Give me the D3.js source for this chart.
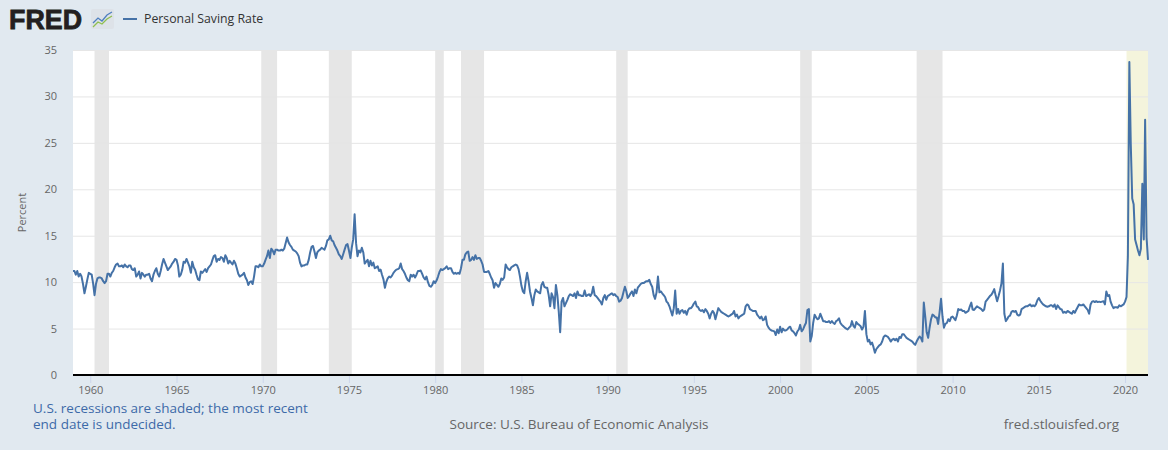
<!DOCTYPE html>
<html>
<head>
<meta charset="utf-8">
<script src="https://cdn.jsdelivr.net/npm/d3@7"></script>
<style>
  html, body { margin: 0; padding: 0; background: #e1e9f0; }
  svg { display: block; font-family: "Open Sans", "Noto Sans", sans-serif; }
</style>
</head>
<body>
<div id="chart"></div>
<script>
// constants
const FRAME_WIDTH = 1168;
const FRAME_HEIGHT = 450;
const MARGINS = {left: 73, right: 20, top: 50, bottom: 75};
const VIS_WIDTH = FRAME_WIDTH - MARGINS.left - MARGINS.right;
const VIS_HEIGHT = FRAME_HEIGHT - MARGINS.top - MARGINS.bottom;

// data: monthly personal saving rate (%), first value is 1959-01
const firstMonth = '1959-01';
const rate1950s = [
  11.2, 11.2, 10.8, 11.2, 10.6, 10.9, 10.6, 9.8, 8.8, 9.5, 10.3, 11.0
];
const rate1960s = [
  10.9, 10.8, 9.9, 8.6, 9.8, 10.4, 10.5, 10.5, 10.4, 10.1, 9.9, 10.1,
  10.9, 10.9, 10.6, 11.0, 11.2, 11.6, 11.9, 12.0, 11.7, 11.7, 11.8, 11.6,
  11.9, 11.7, 11.6, 11.8, 11.8, 11.4, 11.3, 11.5, 10.6, 10.8, 11.15, 10.4,
  11.0, 10.8, 10.6, 10.8, 10.8, 10.9, 10.4, 10.1, 10.8, 11.2, 11.5, 10.9,
  10.6, 11.2, 11.9, 12.5, 12.1, 11.7, 11.3, 11.5, 11.7, 12.0, 12.2, 12.5,
  12.4, 11.8, 10.6, 10.8, 11.3, 12.2, 12.1, 12.5, 12.1, 11.7, 11.0, 12.2,
  11.6, 11.3, 10.8, 10.3, 10.2, 11.15, 11.0, 11.2, 11.4, 11.1, 11.5, 11.7,
  11.9, 12.4, 12.8, 12.9, 12.2, 12.5, 12.4, 12.7, 12.6, 12.2, 12.9, 12.6,
  12.0, 12.3, 12.1, 11.9, 12.3, 12.0, 11.5, 10.9, 10.6, 10.7, 10.8, 11.0,
  10.5, 10.2, 9.7, 10.0, 10.1, 9.8, 10.6, 11.7, 11.7, 11.6, 11.9, 11.7
];
const rate1970s = [
  11.7, 12.0, 12.4, 12.8, 13.4, 12.6, 13.6, 13.4, 13.0, 13.5, 13.5, 13.4,
  13.4, 13.5, 13.4, 13.6, 14.2, 14.8, 14.3, 14.0, 13.8, 13.5, 13.4, 13.3,
  13.1, 12.8, 12.1, 11.7, 11.8, 11.8, 11.9, 11.9, 12.4, 13.2, 13.8, 13.9,
  13.3, 12.6, 13.2, 13.4, 13.5, 13.7, 13.6, 13.5, 13.9, 14.5, 14.6, 15.0,
  14.5, 14.4, 14.0, 13.7, 13.4, 13.0, 12.8, 12.5, 13.0, 13.5, 14.0, 14.1,
  13.4, 12.6, 13.7, 14.6, 17.3, 14.2, 12.8, 13.4, 13.2, 13.7, 13.2, 12.0,
  12.2, 12.4, 11.7, 12.3, 11.8, 12.1, 11.5, 11.6, 11.7, 11.2, 11.35, 10.8,
  10.3, 9.4, 10.0, 10.4, 10.6, 10.5, 10.7, 11.0, 11.2, 11.35, 11.4, 11.5,
  12.0, 11.4, 11.2, 10.9, 10.5, 10.2, 10.1, 10.8, 10.6, 10.8, 10.5, 10.8,
  11.2, 11.2, 11.25, 10.9, 10.5, 10.3, 10.6, 10.0, 9.6, 9.5, 9.7, 10.1
];
const rate1980s = [
  9.9, 10.2, 10.6, 11.1, 11.4, 11.3, 11.4, 11.5, 11.7, 11.4, 11.5, 11.5,
  11.1, 10.9, 11.0, 10.9, 11.0, 10.9, 11.5, 12.4, 12.4, 13.0, 13.2, 13.3,
  12.3, 12.4, 12.7, 12.4, 12.9, 12.5, 12.6, 12.6, 12.3, 11.9, 11.1, 11.1,
  11.1, 11.2, 10.9, 10.5, 10.2, 9.4, 9.9, 9.7, 9.5, 9.8, 10.4, 10.25,
  10.5, 11.9, 11.6, 11.4, 11.3, 11.6, 11.7, 11.8, 11.9, 11.8, 11.4, 10.6,
  9.6, 9.0, 8.8, 10.1, 11.0, 10.1, 9.0, 8.3, 7.5, 8.6, 9.2, 9.0,
  8.9, 8.8, 9.7, 10.0, 9.5, 9.4, 9.4, 8.6, 7.4, 8.8, 8.4, 7.2,
  9.7, 8.6, 6.9, 4.6, 7.9, 8.3, 7.4, 7.75, 8.1, 8.5, 8.7, 8.6,
  8.5, 8.8, 8.3, 9.0, 8.6, 8.6, 8.5, 8.5, 9.1, 8.5, 8.6, 8.7,
  8.5, 8.8, 9.5, 8.6, 8.5, 8.3, 8.1, 7.9, 7.6, 8.3, 8.6, 8.1
];
const rate1990s = [
  8.5, 8.6, 8.7, 8.8, 8.6, 8.7, 8.5, 8.4, 7.9, 8.0, 8.3, 8.9,
  9.5, 9.0, 8.3, 8.5, 8.8, 9.0, 8.5, 9.2, 8.8, 9.4, 9.6, 9.8,
  9.9, 9.9, 10.0, 10.1, 10.1, 10.25, 9.8, 9.5, 8.6, 8.2, 8.9, 10.6,
  8.9, 9.0, 8.8, 8.6, 8.4, 7.9, 7.75, 7.4, 6.9, 6.4, 7.2, 9.1,
  6.6, 7.1, 6.6, 6.9, 7.0, 6.7, 6.9, 6.5, 7.0, 7.2, 7.2, 7.4,
  7.7, 7.9, 7.4, 7.3, 7.0, 6.9, 7.0, 6.75, 7.1, 6.9, 6.6, 6.1,
  6.6, 6.9, 6.7, 6.0, 6.6, 7.2, 7.0, 6.8, 6.7, 6.6, 6.5, 6.4,
  6.3, 6.4, 6.5, 6.6, 6.9, 6.3, 6.5, 6.1, 6.3, 6.4, 6.5, 6.6,
  7.4, 7.6, 7.5, 7.1, 7.0, 6.9, 6.9, 6.9, 6.5, 6.3, 6.1, 6.3,
  5.9, 6.0, 6.3, 5.4, 5.1, 4.9, 4.8, 4.75, 4.7, 4.3, 4.9, 4.5
];
const rate2000s = [
  5.2, 4.6, 5.0, 4.8, 4.8, 4.9, 5.1, 5.2, 4.8, 4.7, 4.5, 4.25,
  4.7, 4.9, 5.4, 4.7, 4.9, 5.3, 5.6, 7.0, 7.1, 3.6, 4.2, 5.6,
  6.5, 6.2, 6.0, 6.1, 6.6, 6.2, 5.8, 5.8, 5.7, 5.7, 5.8, 5.6,
  5.8, 5.6, 5.5, 5.8, 5.9, 6.1, 5.6, 5.4, 5.25, 5.1, 5.0, 4.9,
  5.1, 5.25, 5.8, 5.3, 5.1, 5.7, 5.5, 5.4, 5.25, 4.9, 5.2, 6.9,
  4.4, 3.6, 3.8, 3.3, 3.5, 3.0, 2.4, 2.8, 3.0, 3.2, 3.3, 3.6,
  4.1, 4.25, 4.2, 4.1, 3.9, 3.6, 3.8, 3.9, 3.75, 3.9, 3.6, 4.1,
  4.0, 4.4, 4.4, 4.2, 4.0, 3.9, 3.8, 3.7, 3.6, 3.4, 3.25, 3.6,
  3.9, 4.15, 4.0, 3.6, 7.8, 6.3, 4.6, 4.0, 5.1, 6.0, 6.5, 6.4,
  6.2, 6.2, 5.5, 6.8, 8.2, 6.3, 5.1, 5.5, 5.6, 6.0, 5.8, 6.2
];
const rate2010s = [
  6.3, 6.1, 5.9, 6.4, 7.1, 7.0, 7.05, 6.9, 6.9, 6.7, 6.8, 6.9,
  7.4, 7.8, 7.05, 7.0, 7.2, 7.4, 7.3, 7.2, 7.1, 6.9, 7.05, 7.9,
  8.1, 8.3, 8.5, 8.65, 8.9, 9.25, 8.55, 7.95, 8.5, 9.1, 9.9, 12.0,
  6.6, 5.8, 6.0, 6.3, 6.4, 6.8, 6.9, 6.8, 6.9, 6.5, 6.4, 6.5,
  7.1, 7.2, 7.3, 7.4, 7.4, 7.5, 7.6, 7.4, 7.5, 7.4, 7.6, 8.05,
  8.3, 8.0, 7.8, 7.6, 7.5, 7.4, 7.35, 7.4, 7.5, 7.5, 7.35, 7.6,
  7.1, 7.5, 7.3, 7.1, 7.05, 6.7, 6.8, 6.7, 6.9, 6.8, 6.7, 6.6,
  6.9, 6.7, 7.0, 7.3, 7.6, 7.5, 7.5, 7.6, 7.4, 7.2, 7.0, 6.6,
  7.6, 7.9, 7.95, 7.85, 7.95, 7.85, 7.9, 7.85, 7.9, 7.95, 7.6, 9.0,
  8.5, 8.6, 7.9, 7.5, 7.2, 7.3, 7.3, 7.25, 7.5, 7.4, 7.5, 7.6
];
const rate2020s = [
  7.9, 8.4, 12.8, 33.7, 24.9, 19.0, 18.4, 14.6, 14.0, 13.4, 12.9, 13.6,
  20.6, 14.6, 27.5, 14.8, 12.4
];

// NBER recessions (month of peak / trough), last one still open
const recessionStarts = ['1960-04', '1969-12', '1973-11', '1980-01', '1981-07',
                         '1990-07', '2001-03', '2007-12', '2020-02'];
const recessionEnds = ['1961-02', '1970-11', '1975-03', '1980-07', '1982-11',
                       '1991-03', '2001-11', '2009-06', null];

const yTicks = [0, 5, 10, 15, 20, 25, 30, 35];
const xTickYears = [1960, 1965, 1970, 1975, 1980, 1985, 1990, 1995,
                    2000, 2005, 2010, 2015, 2020];

const parseMonth = d3.timeParse('%Y-%m');
const allRates = [].concat(rate1950s, rate1960s, rate1970s, rate1980s,
                           rate1990s, rate2000s, rate2010s, rate2020s);
const start = parseMonth(firstMonth);
const data = allRates.map((v, i) => ({date: d3.timeMonth.offset(start, i), value: v}));
const lastDate = data[data.length - 1].date;

// create a frame
const SVG = d3.select('#chart')
              .append('svg')
              .attr('width', FRAME_WIDTH)
              .attr('height', FRAME_HEIGHT);

SVG.append('rect')
   .attr('width', FRAME_WIDTH)
   .attr('height', FRAME_HEIGHT)
   .attr('fill', '#e1e9f0');

// scales
const xScale = d3.scaleTime()
                 .domain([start, lastDate])
                 .range([MARGINS.left, MARGINS.left + VIS_WIDTH]);
const yScale = d3.scaleLinear()
                 .domain([0, 35])
                 .range([MARGINS.top + VIS_HEIGHT, MARGINS.top]);

// plot background
SVG.append('rect')
   .attr('x', MARGINS.left)
   .attr('y', MARGINS.top)
   .attr('width', VIS_WIDTH)
   .attr('height', VIS_HEIGHT)
   .attr('fill', '#ffffff');

// recession shading
const recessions = recessionStarts.map((s, i) => ({
  start: parseMonth(s),
  end: recessionEnds[i] ? parseMonth(recessionEnds[i]) : lastDate,
  open: recessionEnds[i] === null
}));

SVG.append('g')
   .selectAll('rect')
   .data(recessions)
   .enter()
   .append('rect')
   .attr('x', d => xScale(d.start))
   .attr('y', MARGINS.top)
   .attr('width', d => xScale(d.end) - xScale(d.start))
   .attr('height', VIS_HEIGHT)
   .attr('fill', d => d.open ? '#f4f4dc' : '#e6e6e6');

// gridlines
SVG.append('g')
   .attr('transform', 'translate(' + MARGINS.left + ',0)')
   .call(d3.axisLeft(yScale).tickValues(yTicks).tickSize(-VIS_WIDTH).tickFormat(''))
   .call(g => g.select('.domain').remove())
   .call(g => g.selectAll('line').attr('stroke', '#e6e6e6').attr('stroke-width', 1));

// y axis labels
SVG.append('g')
   .attr('transform', 'translate(' + (MARGINS.left - 13) + ',0)')
   .call(d3.axisLeft(yScale).tickValues(yTicks).tickSize(0))
   .call(g => g.select('.domain').remove())
   .call(g => g.selectAll('text')
               .attr('fill', '#666666')
               .attr('font-size', '11px')
               .attr('font-family', '"Open Sans", sans-serif'));

SVG.append('text')
   .attr('transform', 'translate(26,' + (MARGINS.top + VIS_HEIGHT / 2) + ') rotate(-90)')
   .attr('text-anchor', 'middle')
   .attr('font-size', '11px')
   .attr('fill', '#666666')
   .text('Percent');

// x axis
const xAxis = d3.axisBottom(xScale)
                .tickValues(xTickYears.map(y => new Date(y, 0, 1)))
                .tickFormat(d3.timeFormat('%Y'))
                .tickSize(8)
                .tickPadding(3);

SVG.append('g')
   .attr('transform', 'translate(0,' + (MARGINS.top + VIS_HEIGHT) + ')')
   .call(xAxis)
   .call(g => g.select('.domain').remove())
   .call(g => g.selectAll('line').attr('stroke', '#ccd6eb'))
   .call(g => g.selectAll('text')
               .attr('fill', '#666666')
               .attr('font-size', '11px')
               .attr('font-family', '"Open Sans", sans-serif'));

// series line
const line = d3.line()
               .x(d => xScale(d.date))
               .y(d => yScale(d.value));

SVG.append('path')
   .datum(data)
   .attr('d', line)
   .attr('fill', 'none')
   .attr('stroke', '#4572a7')
   .attr('stroke-width', 2)
   .attr('stroke-linejoin', 'round');

// bottom axis line
SVG.append('line')
   .attr('x1', MARGINS.left)
   .attr('x2', MARGINS.left + VIS_WIDTH)
   .attr('y1', MARGINS.top + VIS_HEIGHT)
   .attr('y2', MARGINS.top + VIS_HEIGHT)
   .attr('stroke', '#000000')
   .attr('stroke-width', 2);

// logo
SVG.append('text')
   .attr('x', 9)
   .attr('y', 29)
   .attr('font-family', '"Liberation Sans", Arial, sans-serif')
   .attr('font-weight', 'bold')
   .attr('font-size', '27px')
   .attr('textLength', 73)
   .attr('lengthAdjust', 'spacingAndGlyphs')
   .attr('stroke', '#231f20')
   .attr('stroke-width', 0.8)
   .attr('fill', '#231f20')
   .text('FRED');

const icon = SVG.append('g').attr('transform', 'translate(91,9)');
icon.append('rect')
    .attr('width', 23)
    .attr('height', 20)
    .attr('rx', 2)
    .attr('fill', '#dde2e8');
icon.append('polyline')
    .attr('points', '2,14 7,9 11,12 16,6 21,3')
    .attr('fill', 'none')
    .attr('stroke', '#4f7fbf')
    .attr('stroke-width', 1.3);
icon.append('polyline')
    .attr('points', '2,18 7,13 11,15 16,10 21,7')
    .attr('fill', 'none')
    .attr('stroke', '#8fbf4f')
    .attr('stroke-width', 1.3);

// legend
SVG.append('line')
   .attr('x1', 123)
   .attr('x2', 137)
   .attr('y1', 19)
   .attr('y2', 19)
   .attr('stroke', '#4572a7')
   .attr('stroke-width', 2);

SVG.append('text')
   .attr('x', 144)
   .attr('y', 23)
   .attr('font-size', '12.3px')
   .attr('fill', '#333333')
   .text('Personal Saving Rate');

// notes
SVG.append('text')
   .attr('x', 33)
   .attr('y', 413)
   .attr('font-size', '13.5px')
   .attr('fill', '#3d6aa8')
   .text('U.S. recessions are shaded; the most recent');

SVG.append('text')
   .attr('x', 33)
   .attr('y', 429)
   .attr('font-size', '13.5px')
   .attr('fill', '#3d6aa8')
   .text('end date is undecided.');

SVG.append('text')
   .attr('x', 579)
   .attr('y', 429)
   .attr('text-anchor', 'middle')
   .attr('font-size', '13.5px')
   .attr('fill', '#666666')
   .text('Source: U.S. Bureau of Economic Analysis');

SVG.append('text')
   .attr('x', 1119)
   .attr('y', 429)
   .attr('text-anchor', 'end')
   .attr('font-size', '13.5px')
   .attr('fill', '#666666')
   .text('fred.stlouisfed.org');
</script>
</body>
</html>
